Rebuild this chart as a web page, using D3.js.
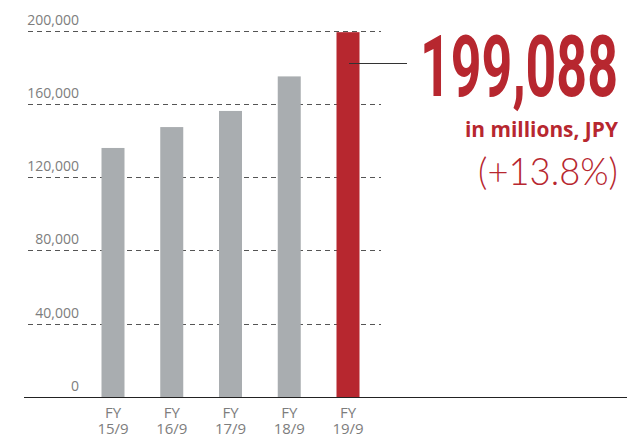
<!DOCTYPE html>
<html>
<head>
<meta charset="utf-8">
<script src="https://cdn.jsdelivr.net/npm/d3@7"></script>
<style>
  html, body { margin: 0; padding: 0; background: #fff; }
  svg { display: block; }
</style>
</head>
<body>
<svg id="chart" width="627" height="441"></svg>
<script>
// Net sales by fiscal half-year (millions of JPY)
const categories = ["FY 15/9", "FY 16/9", "FY 17/9", "FY 18/9", "FY 19/9"];
const values = [135900, 147300, 156100, 174950, 199088];
const yTicks = [0, 40000, 80000, 120000, 160000, 200000];
const headline = "199,088";
const unitLabel = "in millions, JPY";
const growthLabel = "(+13.8%)";

const W = 627, H = 441;
const svg = d3.select("#chart");

const y = d3.scaleLinear().domain([0, 200000]).range([397, 30.5]);
const x = d3.scalePoint().domain(categories).range([113, 348]);
const barW = 23;

const RED = "#b7272f", GREY = "#a9adb0";

// horizontal dashed grid
svg.append("g").selectAll("line")
  .data(yTicks.filter(d => d > 0))
  .join("line")
  .attr("x1", 28).attr("x2", 381)
  .attr("y1", d => Math.round(y(d)) + 0.5)
  .attr("y2", d => Math.round(y(d)) + 0.5)
  .attr("stroke", "#555")
  .attr("stroke-width", 1)
  .attr("stroke-dasharray", "5,4");

// tick labels sit above their grid lines
svg.append("g").selectAll("text")
  .data(yTicks)
  .join("text")
  .attr("x", 79)
  .attr("y", d => y(d) - 6)
  .attr("text-anchor", "end")
  .attr("font-family", "'Open Sans', sans-serif")
  .attr("font-size", 14)
  .attr("fill", "#7d7d7d")
  .text(d => d3.format(",")(d));

// bars
svg.append("g").selectAll("rect")
  .data(values.map((v, i) => ({ cat: categories[i], v, last: i === values.length - 1 })))
  .join("rect")
  .attr("x", d => x(d.cat) - barW / 2)
  .attr("width", barW)
  .attr("y", d => y(d.v))
  .attr("height", d => y(0) - y(d.v))
  .attr("fill", d => d.last ? RED : GREY);

// baseline
svg.append("line")
  .attr("x1", 24).attr("x2", W)
  .attr("y1", 397.5).attr("y2", 397.5)
  .attr("stroke", "#222").attr("stroke-width", 1.2);

// category labels, two lines each
[[0, 418], [1, 434]].forEach(([part, baseline]) => {
  svg.append("g").selectAll("text")
    .data(categories)
    .join("text")
    .attr("x", d => x(d))
    .attr("y", baseline)
    .attr("text-anchor", "middle")
    .attr("font-family", "'Open Sans', sans-serif")
    .attr("font-size", 15)
    .attr("fill", "#7d7d7d")
    .text(d => d.split(" ")[part]);
});

// leader line from the latest bar to the headline figure
const last = categories[categories.length - 1];
svg.append("line")
  .attr("x1", x(last) + 1).attr("x2", 407)
  .attr("y1", 63.5).attr("y2", 63.5)
  .attr("stroke", "#333").attr("stroke-width", 1.2);

// text squeezed horizontally to a given width, right edge at `right`
function fitted(str, right, baseline, width, font) {
  const t = svg.append("text")
    .attr("x", 0).attr("y", 0)
    .attr("font-family", font.family)
    .attr("font-weight", font.weight)
    .attr("font-size", font.size)
    .attr("fill", RED)
    .text(str);
  const natural = t.node().getComputedTextLength();
  const k = width / natural;
  t.attr("transform", `translate(${right - width},${baseline}) scale(${k},1)`);
  return t;
}

fitted(headline, 618, 96, 198, { family: "Roboto, sans-serif", weight: 700, size: 86 });
fitted(unitLabel, 618, 137, 153, { family: "'Open Sans', sans-serif", weight: 700, size: 22 });
fitted(growthLabel, 618, 185, 140, { family: "Lato, sans-serif", weight: 300, size: 38 });
</script>
</body>
</html>
